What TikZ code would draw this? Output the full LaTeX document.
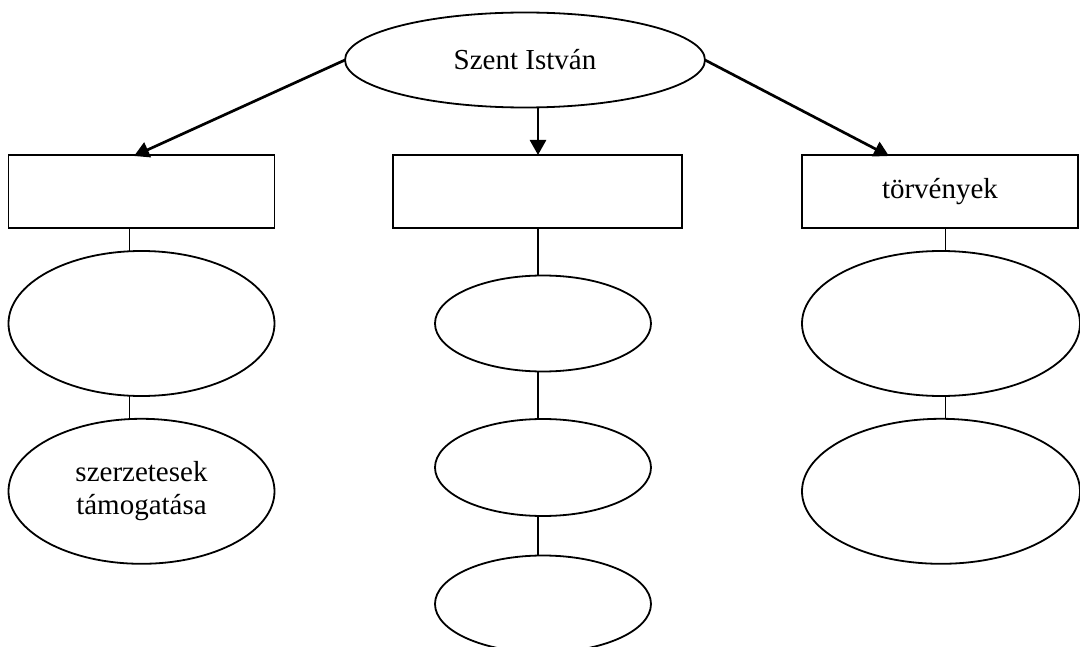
\documentclass[tikz,border=0pt]{standalone}
\usepackage{fontspec}
\setmainfont{Liberation Serif}
\usetikzlibrary{shapes.geometric,arrows.meta}
\begin{document}
\begin{tikzpicture}[x=1pt,y=-1pt,
  every node/.style={inner sep=0pt,outer sep=0pt,font=\fontsize{29}{33.3}\selectfont,align=center},
  oval/.style={draw,ellipse,line width=1.8pt,fill=white},
  box/.style={draw,rectangle,line width=1.8pt,fill=white,minimum height=73pt},
  link/.style={line width=1.8pt},
  arr/.style={line width=2.7pt,-{Triangle[length=15pt,width=16pt]}}]
\useasboundingbox[fill=white] (0,0) rectangle (1080,647);
% top
\node[oval,minimum width=360pt,minimum height=95pt] (top) at (525,60) {Szent István};
% boxes
\node[box,minimum width=266pt] (L) at (141.5,191.5) {};
\node[box,minimum width=289pt] (M) at (537.5,191.5) {};
\node[box,minimum width=276pt] (R) at (940,191.5) {törvények};
% left column
\node[oval,minimum width=266pt,minimum height=145pt] (L1) at (141.5,323.5) {};
\node[oval,minimum width=266pt,minimum height=145pt] (L2) at (141.5,491.3) {szerzetesek\\támogatása};
% middle column
\node[oval,minimum width=216pt,minimum height=96pt] (M1) at (543,323.5) {};
\node[oval,minimum width=216pt,minimum height=97pt] (M2) at (543,467.5) {};
\node[oval,minimum width=216pt,minimum height=97pt] (M3) at (543,604) {};
% right column
\node[oval,minimum width=278pt,minimum height=145pt] (R1) at (941,323.5) {};
\node[oval,minimum width=278pt,minimum height=145pt] (R2) at (941,491.3) {};
% x positions of connectors
\coordinate (lx) at (129.5,0);
\coordinate (mx) at (538,0);
\coordinate (rx) at (945.5,0);
\coordinate (ltip) at (134,156);
\coordinate (rtip) at (889,156);
% connectors
\draw[link] (L.south -| lx) -- (L1.north -| lx);
\draw[link] (L1.south -| lx) -- (L2.north -| lx);
\draw[link] (M.south -| mx) -- (M1.north -| mx);
\draw[link] (M1.south -| mx) -- (M2.north -| mx);
\draw[link] (M2.south -| mx) -- (M3.north -| mx);
\draw[link] (R.south -| rx) -- (R1.north -| rx);
\draw[link] (R1.south -| rx) -- (R2.north -| rx);
% arrows
\draw[arr] (top.west) -- (ltip);
\draw[arr] (top.south -| mx) ++(0,0.5) -- (M.north -| mx);
\draw[arr] (top.east) -- (rtip);
\end{tikzpicture}
\end{document}
